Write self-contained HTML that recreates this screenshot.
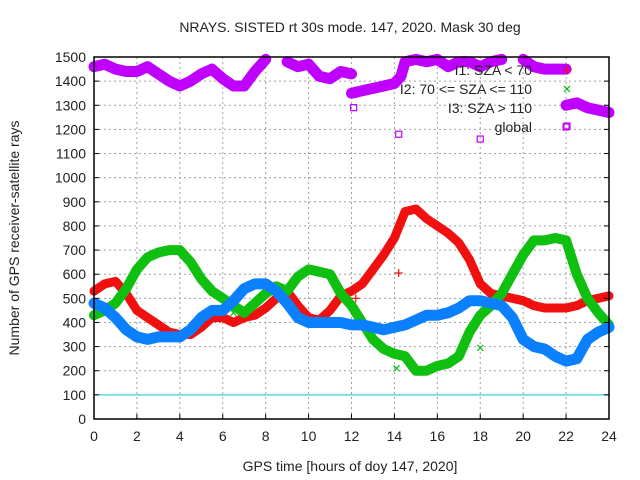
<!DOCTYPE html>
<html><head><meta charset="utf-8"><style>
body{margin:0;background:#fff;}
svg{display:block;font-family:"Liberation Sans",sans-serif;}
</style></head><body>
<svg id="chart" width="640" height="480" viewBox="0 0 640 480" xmlns="http://www.w3.org/2000/svg">
<text x="350" y="32" font-size="14" text-anchor="middle" fill="#222">NRAYS. SISTED rt 30s mode. 147, 2020. Mask 30 deg</text>
<text x="350" y="471" font-size="14" text-anchor="middle" fill="#222">GPS time [hours of doy 147, 2020]</text>
<text transform="translate(19,238) rotate(-90)" font-size="14" text-anchor="middle" fill="#222">Number of GPS receiver-satellite rays</text>
<g id="grid"></g><g id="series"></g><g id="axes"></g>
<g font-size="14" fill="#222" text-anchor="end">
<text x="532" y="75">I1: SZA &lt; 70</text>
<text x="532" y="94">I2: 70 &lt;= SZA &lt;= 110</text>
<text x="532" y="113">I3: SZA &gt; 110</text>
<text x="532" y="132">global</text>
<path d="M563 70h8M567 66v8" stroke="#f00" stroke-width="1.2"/>
<path d="M564 86l6 6M570 86l-6 6" stroke="#0b0" stroke-width="1.2"/>
<rect x="564" y="123" width="6" height="6" fill="none" stroke="#c0f" stroke-width="1.2"/>
</g>
</svg>
<script>
const hours=[0,0.5,1,1.5,2,2.5,3,3.5,4,4.5,5,5.5,6,6.5,7,7.5,8,8.5,9,9.5,10,10.5,11,11.5,12,12.5,13,13.5,14,14.5,15,15.5,16,16.5,17,17.5,18,18.5,19,19.5,20,20.5,21,21.5,22,22.5,23,23.5,24];
const redI1=[530,560,570,520,450,420,390,360,350,350,380,420,420,400,420,430,460,500,530,470,420,410,450,510,530,560,620,680,750,860,870,830,800,770,730,660,560,520,510,500,490,470,460,460,460,470,490,500,510];
const greenI2=[430,450,480,540,620,670,690,700,700,650,580,530,500,470,440,480,520,550,530,590,620,610,600,520,470,400,330,290,270,260,200,200,220,230,260,360,430,470,520,600,680,740,740,750,740,600,500,440,390];
const blueI3=[480,460,420,370,340,330,340,340,340,370,420,450,450,490,540,560,560,530,480,420,400,400,400,400,390,390,380,370,380,390,410,430,430,440,460,490,490,480,470,420,330,300,290,260,240,250,330,360,380];
const globalHours=[0,0.5,1,1.5,2,2.5,3,3.5,4,4.5,5,5.5,6,6.5,7,7.5,8,null,9,9.5,10,10.5,11,11.5,12,null,12,12.5,13,13.5,14,14.3,14.5,15,15.5,16,16.5,17,17.5,18,18.5,19,null,20,20.5,21,21.5,22,null,22,22.5,23,23.5,24];
const globalVals=[1460,1470,1450,1440,1440,1460,1430,1400,1380,1400,1430,1450,1410,1380,1380,1440,1490,null,1480,1460,1470,1420,1410,1440,1430,null,1350,1360,1370,1380,1390,1420,1480,1490,1480,1490,1460,1480,1480,1460,1480,1490,null,1490,1460,1450,1450,1450,null,1300,1310,1290,1280,1270];
const globalOutHours=[14.2,18,22,12.1];
const globalOutVals=[1180,1160,1210,1290];
const redOutHours=[14.2,12.2];
const redOutVals=[605,500];
const greenOutHours=[14.1,18,6.5];
const greenOutVals=[210,295,440];
const xTicks=[0,2,4,6,8,10,12,14,16,18,20,22,24];
const yTicks=[0,100,200,300,400,500,600,700,800,900,1000,1100,1200,1300,1400,1500];
const X0=94,X1=609,Y0=419,Y1=57;
const xs=h=>X0+h/24*(X1-X0), ys=v=>Y0-v/1500*(Y0-Y1);
const NS="http://www.w3.org/2000/svg";
function mk(tag,parent,attrs){const e=document.createElementNS(NS,tag);for(const k in attrs)e.setAttribute(k,attrs[k]);parent.appendChild(e);return e;}
const grid=document.getElementById('grid'),axes=document.getElementById('axes'),ser=document.getElementById('series');
xTicks.forEach(t=>{
 if(t>0&&t<24){const l=mk('line',grid,{x1:xs(t),x2:xs(t),y1:Y1,y2:Y0,stroke:'#a0a0a0','stroke-dasharray':'2,3'});
 
 }
 const tk=mk('line',axes,{x1:xs(t),x2:xs(t),y1:Y0,y2:Y0-5,stroke:'#000'});
 
 
 const tx=mk('text',axes,{x:xs(t),y:Y0+22,'font-size':14,'text-anchor':'middle',fill:'#222'});tx.textContent=t;
 
 
});
yTicks.forEach(v=>{
 if(v>0&&v<1500){const l=mk('line',grid,{x1:X0,x2:X1,y1:ys(v),y2:ys(v),stroke:'#a0a0a0','stroke-dasharray':'2,3'});
 
 }
 const tk=mk('line',axes,{x1:X0,x2:X0+5,y1:ys(v),y2:ys(v),stroke:'#000'});
 
 
 const tk2=mk('line',axes,{x1:X1,x2:X1-5,y1:ys(v),y2:ys(v),stroke:'#000'});
 
 
 const tx=mk('text',axes,{x:X0-8,y:ys(v)+5,'font-size':14,'text-anchor':'end',fill:'#222'});tx.textContent=v;
 
 
});
const ref=mk('line',grid,{x1:X0,x2:X1,y1:ys(100),y2:ys(100),stroke:'#40d0d0','stroke-width':1.2});


const frame=mk('rect',axes,{x:X0,y:Y1,width:X1-X0,height:Y0-Y1,fill:'none',stroke:'#000','stroke-width':1.5});


function path(hs,vs){let d='',pen=false;hs.forEach((h,i)=>{if(h===null||vs[i]===null){pen=false;return;}d+=(pen?'L':'M')+xs(h).toFixed(1)+' '+ys(vs[i]).toFixed(1);pen=true;});return d;}
function series(name,hs,vs,color,w){const p=mk('path',ser,{d:path(hs,vs),fill:'none',stroke:color,'stroke-width':w,'stroke-linejoin':'round','stroke-linecap':'round'});
 
 }
series('series-i1-red',hours,redI1,'#f01010',9);
series('series-i2-green',hours,greenI2,'#10c010',10);
series('series-i3-blue',hours,blueI3,'#0a80ff',11);
series('series-global-magenta',globalHours,globalVals,'#c000ff',11);
globalOutHours.forEach((h,i)=>{const x=xs(h),y=ys(globalOutVals[i]);
 const r=mk('rect',ser,{x:x-3,y:y-3,width:6,height:6,fill:'none',stroke:'#c000ff','stroke-width':1.2});
 
 });
redOutHours.forEach((h,i)=>{const x=xs(h),y=ys(redOutVals[i]);
 const p=mk('path',ser,{d:`M${x-4} ${y}h8M${x} ${y-4}v8`,stroke:'#f01010','stroke-width':1.2});
 
 });
greenOutHours.forEach((h,i)=>{const x=xs(h),y=ys(greenOutVals[i]);
 const p=mk('path',ser,{d:`M${x-3} ${y-3}l6 6M${x+3} ${y-3}l-6 6`,stroke:'#10c010','stroke-width':1.2});
 
 });
</script>
</body></html>
